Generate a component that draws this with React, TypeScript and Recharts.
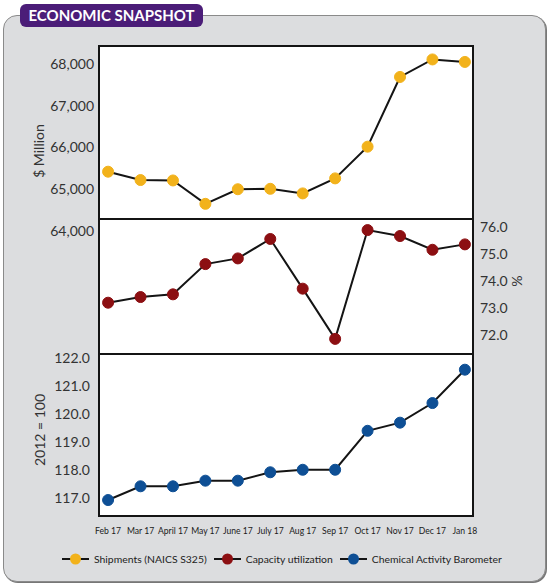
import React from "react";
import { LineChart, Line, XAxis, YAxis, ReferenceArea } from "recharts";

const months = ["Feb 17", "Mar 17", "April 17", "May 17", "June 17", "July 17", "Aug 17", "Sep 17", "Oct 17", "Nov 17", "Dec 17", "Jan 18"];
const shipments = [65420, 65220, 65210, 64650, 65000, 65010, 64900, 65260, 66020, 67690, 68110, 68050];
const capacity = [73.2, 73.41, 73.51, 74.63, 74.84, 75.56, 73.72, 71.86, 75.89, 75.67, 75.16, 75.36];
const barometer = [116.93, 117.42, 117.42, 117.62, 117.62, 117.92, 118.01, 118.01, 119.4, 119.69, 120.39, 121.58];

const shipTicks = [64000, 65000, 66000, 67000, 68000];
const capTicks = [72, 73, 74, 75, 76];
const cabTicks = [117, 118, 119, 120, 121, 122];

const legendItems = [
  { name: "Shipments (NAICS S325)", color: "#f2b21b" },
  { name: "Capacity utilization", color: "#8c0f12" },
  { name: "Chemical Activity Barometer", color: "#0e4f95" },
];

const data = months.map((m, i) => ({
  i,
  month: m,
  shipments: shipments[i],
  capacity: capacity[i],
  barometer: barometer[i],
}));

const X_DOMAIN: [number, number] = [-0.28, 11.25];
const FONT = "Lato, 'Open Sans', sans-serif";
const LINE = "#141414";
const tickStyle = { fontSize: 14, fill: "#333", fontFamily: FONT };

const dot = (color: string) => ({ r: 5.5, fill: color, stroke: color, strokeWidth: 1 });

const title = (value: string, x: number, y: number, angle: number) => () => (
  <text
    x={x}
    y={y}
    transform={`rotate(${angle} ${x} ${y})`}
    textAnchor="middle"
    dominantBaseline="central"
    fontSize={14}
    fill="#333"
    fontFamily={FONT}
  >
    {value}
  </text>
);

const layer: React.CSSProperties = { position: "absolute", left: 0, top: 0 };

function ShipmentsPanel() {
  const dom: [number, number] = [63400, 68432];
  return (
    <div style={layer}>
      <LineChart width={550} height={270} data={data} margin={{ top: 46, right: 77, bottom: 14, left: 0 }}>
        <XAxis dataKey="i" type="number" domain={X_DOMAIN} hide />
        <YAxis
          width={99}
          domain={dom}
          allowDataOverflow
          ticks={shipTicks}
          tickFormatter={(v) => Number(v).toLocaleString("en-US")}
          tick={tickStyle}
          axisLine={false}
          tickLine={false}
          tickSize={4}
          tickMargin={1}
          label={{ content: title("$ Million", 38, 151, -90) }}
        />
        <ReferenceArea x1={X_DOMAIN[0]} x2={X_DOMAIN[1]} y1={dom[0]} y2={dom[1]} fill="#fff" fillOpacity={1} stroke={LINE} strokeWidth={2} />
        <Line dataKey="shipments" stroke={LINE} strokeWidth={2} dot={dot(legendItems[0].color)} activeDot={false} isAnimationActive={false} />
      </LineChart>
    </div>
  );
}

function CapacityPanel() {
  const dom: [number, number] = [71.3, 76.3];
  return (
    <div style={layer}>
      <LineChart width={550} height={360} data={data} margin={{ top: 219, right: 0, bottom: 6, left: 99 }}>
        <XAxis dataKey="i" type="number" domain={X_DOMAIN} hide />
        <YAxis
          yAxisId="r"
          orientation="right"
          width={77}
          domain={dom}
          allowDataOverflow
          ticks={capTicks}
          tickFormatter={(v) => Number(v).toFixed(1)}
          tick={tickStyle}
          axisLine={false}
          tickLine={false}
          tickSize={6}
          tickMargin={1}
          label={{ content: title("%", 517, 281, 90) }}
        />
        <ReferenceArea yAxisId="r" x1={X_DOMAIN[0]} x2={X_DOMAIN[1]} y1={dom[0]} y2={dom[1]} fill="#fff" fillOpacity={1} stroke={LINE} strokeWidth={2} />
        <Line yAxisId="r" dataKey="capacity" stroke={LINE} strokeWidth={2} dot={dot(legendItems[1].color)} activeDot={false} isAnimationActive={false} />
      </LineChart>
    </div>
  );
}

function BarometerPanel() {
  const dom: [number, number] = [116.36, 122.14];
  return (
    <div style={layer}>
      <LineChart width={550} height={587} data={data} margin={{ top: 354, right: 77, bottom: 41, left: 0 }}>
        <XAxis
          dataKey="i"
          type="number"
          domain={X_DOMAIN}
          ticks={months.map((_, i) => i)}
          interval={0}
          tickFormatter={(v) => months[v]}
          tick={{ fontSize: 8.6, fill: "#1a1a1a", fontFamily: FONT }}
          axisLine={false}
          tickLine={false}
          tickSize={8}
          tickMargin={4}
          height={30}
        />
        <YAxis
          width={99}
          domain={dom}
          allowDataOverflow
          ticks={cabTicks}
          tickFormatter={(v) => Number(v).toFixed(1)}
          tick={tickStyle}
          axisLine={false}
          tickLine={false}
          tickSize={4}
          tickMargin={5}
          label={{ content: title("2012 = 100", 39, 430, -90) }}
        />
        <ReferenceArea x1={X_DOMAIN[0]} x2={X_DOMAIN[1]} y1={dom[0]} y2={dom[1]} fill="#fff" fillOpacity={1} stroke={LINE} strokeWidth={2} />
        <Line dataKey="barometer" stroke={LINE} strokeWidth={2} dot={dot(legendItems[2].color)} activeDot={false} isAnimationActive={false} />
      </LineChart>
    </div>
  );
}

function LegendRow() {
  return (
    <div
      style={{
        position: "absolute",
        left: 62,
        top: 552,
        display: "flex",
        alignItems: "center",
        fontFamily: FONT,
        fontSize: 10.4,
        color: "#222",
      }}
    >
      {legendItems.map((it) => (
        <div key={it.name} style={{ display: "flex", alignItems: "center", marginRight: 7 }}>
          <svg width={27} height={14} style={{ marginRight: 5 }}>
            <line x1={0} y1={7} x2={27} y2={7} stroke={LINE} strokeWidth={2} />
            <circle cx={13.5} cy={7} r={5.5} fill={it.color} />
          </svg>
          <span>{it.name}</span>
        </div>
      ))}
    </div>
  );
}

export default function App() {
  return (
    <div style={{ position: "absolute", left: 0, top: 0, width: 550, height: 587, background: "#fff", overflow: "hidden" }}>
      <div
        style={{
          position: "absolute",
          left: 3,
          top: 15,
          width: 541,
          height: 565,
          background: "#dcdddf",
          border: "1px solid #8a8a8a",
          borderRadius: 14,
          boxShadow: "1px 1px 0 #777",
        }}
      />
      <div
        style={{
          position: "absolute",
          left: 20,
          top: 4,
          width: 183,
          height: 23,
          background: "#4b1d78",
          borderRadius: 6,
          color: "#fff",
          fontFamily: FONT,
          fontWeight: 700,
          fontSize: 15,
          lineHeight: "23px",
          textAlign: "center",
        }}
      >
        ECONOMIC SNAPSHOT
      </div>
      <ShipmentsPanel />
      <CapacityPanel />
      <BarometerPanel />
      <LegendRow />
    </div>
  );
}
